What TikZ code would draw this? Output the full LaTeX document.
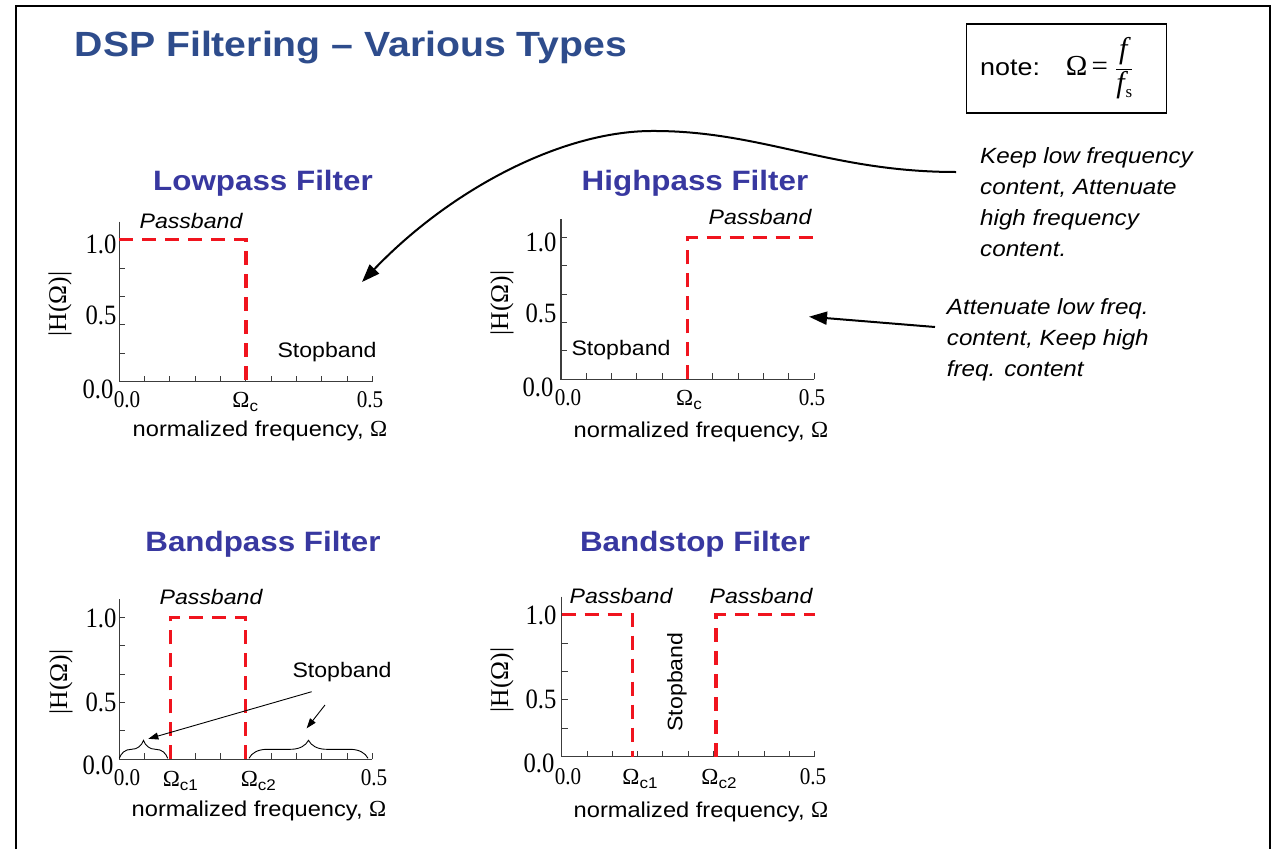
\documentclass[tikz,border=0pt]{standalone}
\usepackage{fontspec}
\setmainfont{Liberation Sans}
\newfontfamily\sansA[FakeStretch=1.12]{Liberation Sans}
\newfontfamily\sansB[FakeStretch=1.1]{Liberation Sans}
\newfontfamily\tmr{Liberation Serif}
\newfontfamily\numfont[FakeStretch=0.88]{Liberation Serif}
\usetikzlibrary{arrows.meta,decorations.pathreplacing}
\definecolor{titleblue}{RGB}{46,76,140}
\definecolor{subblue}{RGB}{56,56,160}
\definecolor{dashred}{RGB}{240,20,30}
\definecolor{axisgray}{RGB}{60,60,60}
\newcommand\fsz[1]{\fontsize{#1}{#1}\selectfont}
\newcommand\omsub[1]{{\tmr\fsz{23}Ω}{\sansB\fsz{15.5}\raisebox{-4pt}{c#1}}}
\newcommand\panelaxes{%
  \draw[axisline] (0,-160) -- (0,0) -- (253,0);
  \foreach \i in {1,...,10} \draw[tickmark] (\i*25.3,0) -- (\i*25.3,-6);
  \foreach \k in {1,...,5} \draw[tickmark] (0,-\k*28.4) -- (6,-\k*28.4);
}
\tikzset{
  every node/.style={inner sep=0pt},
  axisline/.style={draw=axisgray, line width=1.2pt},
  tickmark/.style={draw=axisgray, line width=1pt},
  resp/.style={draw=dashred, line width=3.5pt, dash pattern=on 14pt off 9pt},
  ynum/.style={font=\numfont\fsz{28}},
  xnum/.style={font=\numfont\fsz{24}},
  bandlbl/.style={font=\sansB\fsz{21}},
  passlbl/.style={font=\sansB\itshape\fsz{21}},
  xlbl/.style={font=\sansB\fsz{21.5}},
  ylbl/.style={font=\tmr\fsz{25.5}, rotate=90},
  subtitle/.style={font=\sansA\bfseries\fsz{28}, text=subblue},
  desc/.style={font=\sansB\itshape\fontsize{22}{31}\selectfont, align=left, anchor=north west},
  bigarrow/.style={draw=black, line width=2pt, -{Triangle[length=18pt,width=13pt]}},
  smallarrow/.style={draw=black, line width=0.9pt, -{Triangle[length=10pt,width=7pt]}},
  bracestyle/.style={draw=black, line width=0.9pt, decorate, decoration={brace, amplitude=18pt}},
}
\begin{document}
\begin{tikzpicture}[x=1pt,y=-1pt]
\useasboundingbox (0,0) rectangle (1274,849);
\fill[white] (0,0) rectangle (1274,849);
% slide frame
\draw[line width=2pt] (15.5,849) -- (15.5,5.5) -- (1270,5.5) -- (1270,849);

% title
\node[font=\sansA\bfseries\fsz{35}, text=titleblue] (title) at (351,48) {DSP Filtering – Various Types};

% note box
\node[draw=black, line width=1.5pt, minimum width=200pt, minimum height=88.7pt] (notebox) at (1066.7,68.4) {};
\node[anchor=west, font=\fsz{30}] (notetext) at (980,68)
  {{\sansA\fsz{24}note:}\hspace{26pt}{\tmr\fsz{29}Ω\kern4pt=\kern7pt}$\displaystyle\frac{\mbox{\tmr\itshape\fsz{30}\kern3pt f\kern5pt}}{\mbox{\tmr\itshape\fsz{30}f\kern1pt\raisebox{-5pt}{\upshape\fsz{17}s}}}$};

% subtitles
\node[subtitle] (lptitle) at (263,183) {Lowpass Filter};
\node[subtitle] (hptitle) at (695,183) {Highpass Filter};
\node[subtitle] (bptitle) at (263,544) {Bandpass Filter};
\node[subtitle] (bstitle) at (695,544) {Bandstop Filter};

% descriptions
\node[desc] (keeplow) at (980,147) {Keep low frequency\\content, Attenuate\\high frequency\\content.};
\node[desc] (attlow) at (946.7,298.5) {Attenuate low freq.\\content, Keep high\\freq. content};

% ---------- Lowpass ----------
\begin{scope}[shift={(119.3,381.7)}, name prefix=lp-]
\panelaxes
\draw[resp] (0,-142) -- (126.5,-142) -- (126.5,0);
\node[ynum] (y1) at (-18.3,-137.7) {1.0};
\node[ynum] (y05) at (-18.3,-66.7) {0.5};
\node[ynum] (y0) at (-21.3,7.3) {0.0};
\node[xnum] (x0) at (7.7,18.3) {0.0};
\node (xc) at (126,20.3) {\omsub{}};
\node[xnum] (x05) at (250.7,18.3) {0.5};
\node[xlbl] (xl) at (140.7,49.3) {normalized frequency, {\tmr\fsz{23}Ω}};
\node[ylbl] (yl) at (-59.3,-77.7) {|H(Ω)|};
\node[passlbl] (pass) at (71.7,-160.7) {Passband};
\node[bandlbl] (stop) at (207.7,-29.7) {Stopband};
\coordinate (tip) at (242.7,-99.7);
\end{scope}

% ---------- Highpass ----------
\begin{scope}[shift={(561,379.3)}, name prefix=hp-]
\panelaxes
\draw[resp] (126.5,0) -- (126.5,-142) -- (253,-142);
\node[ynum] (y1) at (-20,-137.3) {1.0};
\node[ynum] (y05) at (-20,-66.3) {0.5};
\node[ynum] (y0) at (-23,7.7) {0.0};
\node[xnum] (x0) at (7,18.7) {0.0};
\node (xc) at (128,20.7) {\omsub{}};
\node[xnum] (x05) at (251,18.7) {0.5};
\node[xlbl] (xl) at (140,52.7) {normalized frequency, {\tmr\fsz{23}Ω}};
\node[ylbl] (yl) at (-59,-76.3) {|H(Ω)|};
\node[passlbl] (pass) at (199,-162.3) {Passband};
\node[bandlbl] (stop) at (60,-29.3) {Stopband};
\coordinate (tip) at (248,-62.6);
\end{scope}

% ---------- Bandpass ----------
\begin{scope}[shift={(119.3,759.3)}, name prefix=bp-]
\panelaxes
\draw[resp] (51,0) -- (51,-142) -- (126,-142) -- (126,0);
\node[ynum] (y1) at (-18.3,-141) {1.0};
\node[ynum] (y05) at (-18.3,-57.3) {0.5};
\node[ynum] (y0) at (-21.3,5.7) {0.0};
\node[xnum] (x0) at (7.7,18.7) {0.0};
\node (xc1) at (61,21.7) {\omsub{1}};
\node (xc2) at (139,21.7) {\omsub{2}};
\node[xnum] (x05) at (254.7,18.7) {0.5};
\node[xlbl] (xl) at (139.7,51.7) {normalized frequency, {\tmr\fsz{23}Ω}};
\node[ylbl] (yl) at (-58.3,-77.3) {|H(Ω)|};
\node[passlbl] (pass) at (91.7,-162.3) {Passband};
\node[bandlbl] (stop) at (222.7,-87.3) {Stopband};
\draw[bracestyle] (0,-1) -- (48.4,-1);
\draw[bracestyle] (129.7,-1) -- (248.7,-1);
\coordinate (ltip) at (29,-20.5);
\coordinate (rtip) at (187.4,-31);
\draw[smallarrow] ([shift={(-30.3,19.7)}]stop.center) -- (ltip);
\draw[smallarrow] ([shift={(-17,33)}]stop.center) -- (rtip);
\end{scope}

% ---------- Bandstop ----------
\begin{scope}[shift={(561.7,756.7)}, name prefix=bs-]
\panelaxes
\draw[resp] (0,-142) -- (71,-142) -- (71,0);
\draw[resp] (154.3,0) -- (154.3,-142) -- (253,-142);
\node[ynum] (y1) at (-20.7,-141.7) {1.0};
\node[ynum] (y05) at (-20.7,-57.7) {0.5};
\node[ynum] (y0) at (-22.7,6.3) {0.0};
\node[xnum] (x0) at (6.3,20.3) {0.0};
\node (xc1) at (78.3,22.3) {\omsub{1}};
\node (xc2) at (157.3,22.3) {\omsub{2}};
\node[xnum] (x05) at (251.3,20.3) {0.5};
\node[xlbl] (xl) at (139.3,55.3) {normalized frequency, {\tmr\fsz{23}Ω}};
\node[ylbl] (yl) at (-59.7,-76.7) {|H(Ω)|};
\node[passlbl] (passl) at (59.3,-160.7) {Passband};
\node[passlbl] (passr) at (199.3,-160.7) {Passband};
\node[bandlbl, rotate=90] (stop) at (115.3,-74.7) {Stopband};
\end{scope}

% annotation arrows
\coordinate (curvestart) at (956,172);
\coordinate (linestart) at (935,327);
\draw[bigarrow] (curvestart) .. controls (830,172) and (760,130) .. (650,131)
   .. controls (560,132) and (450,190) .. (lp-tip);
\draw[bigarrow] (linestart) -- (hp-tip);
\end{tikzpicture}
\end{document}
